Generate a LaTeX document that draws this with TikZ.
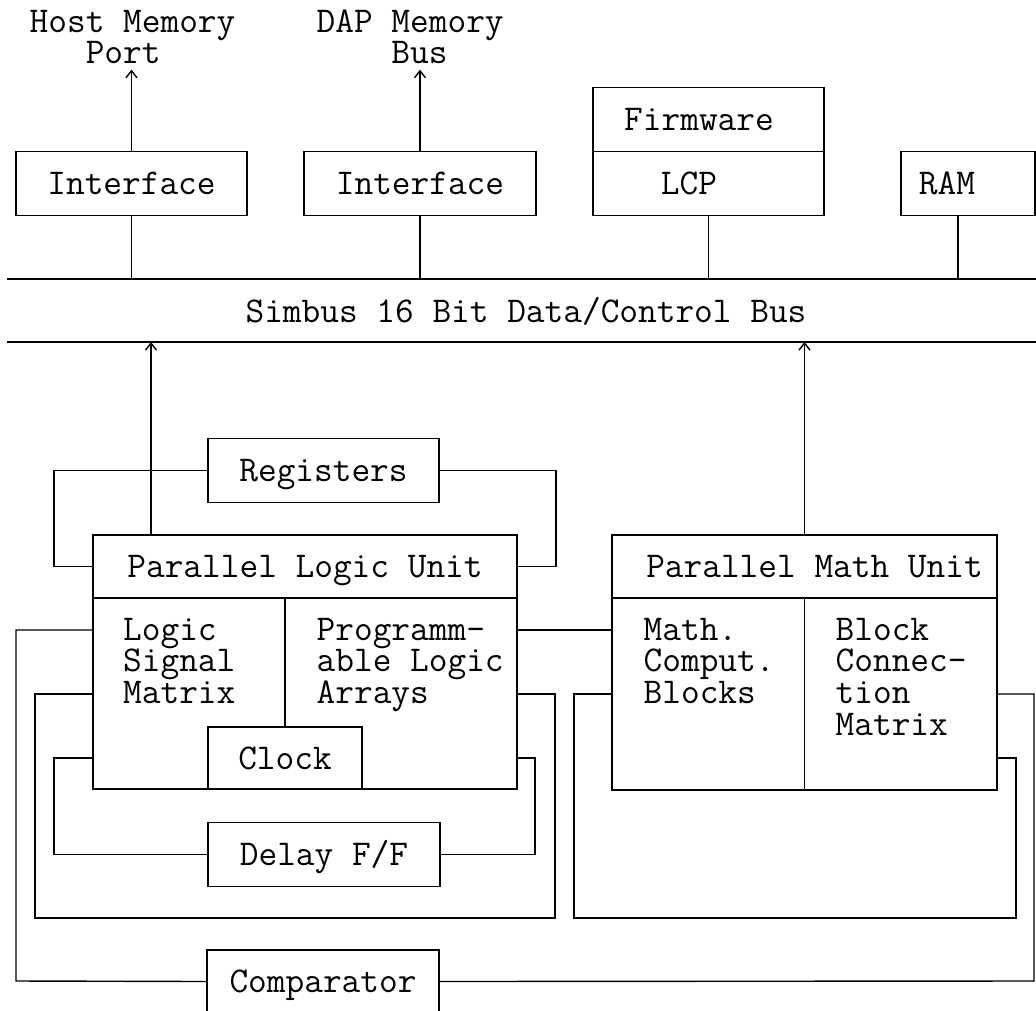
\documentclass[tikz,border=0pt]{standalone}
\usepackage{tikz}
\usetikzlibrary{arrows.meta}

\begin{document}
\begin{tikzpicture}[x=1pt, y=-1pt, line width=1.4pt,
    font=\ttfamily\fontsize{36.3}{31.7}\selectfont,
    box/.style={draw, rectangle, inner sep=0pt, minimum height=64pt, text height=22pt, text depth=0pt},
    txt/.style={inner xsep=0pt, inner ysep=5pt, align=left, anchor=base west},
    up/.style={-{Straight Barb[length=7pt,width=11pt]}},
    every label/.append style={inner sep=0pt, text height=22pt, text depth=0pt}]
                \useasboundingbox (0,0) rectangle (1036,1010);

                % Simbus lines
                \coordinate (bustop) at (7,279);
                \coordinate (bustopR) at (1036,279);
                \coordinate (busbot) at (7,342);
                \coordinate (busbotR) at (1036,342);
                \draw (bustop) -- (bustopR);
                \draw (busbot) -- (busbotR);
                \node[anchor=base] (bus) at (526,322) {Simbus 16 Bit Data/Control Bus};

                % Top row of units
                \node[box, minimum width=231pt] (if1) at (131.5,183.5) {Interface};
                \node[box, minimum width=232pt] (if2) at (420,183.5) {Interface};
                \node[box, minimum width=231pt, label={[xshift=-9.5pt]center:Firmware}] (fw) at (708.5,119.5) {};
                \node[box, minimum width=231pt, label={[xshift=-19.5pt]center:LCP}] (lcp) at (708.5,183.5) {};
                \node[box, minimum width=134pt, label={[xshift=-21pt]center:RAM}] (ram) at (968,183.5) {};

                % Outside ports (base = last line)
                \node[txt] (hostlbl) at (29,63.7) {Host Memory\\\hphantom{Hos}Port};
                \node[txt] (daplbl) at (316,63.7) {DAP Memory\\\hphantom{DAP }Bus};
                \draw[up] (if1.north) -- (if1.north |- hostlbl.south);
                \draw[up] (if2.north) -- (if2.north |- daplbl.south);

                % Connections from top units to the bus
                \draw (if1.south) -- (if1.south |- bustop);
                \draw (if2.south) -- (if2.south |- bustop);
                \draw (lcp.south) -- (lcp.south |- bustop);
                \draw ([xshift=-10pt]ram.south) -- ([xshift=-10pt]ram.south |- bustop);

                % Parallel Logic Unit
                \node[box, minimum width=424pt, minimum height=63pt] (pluhead) at (305,566.5) {Parallel Logic Unit};
                \node[box, minimum width=424pt, minimum height=191pt] (plubody) at (305,693.5) {};
                \node[box, minimum width=154pt, minimum height=62pt, fill=white] (clock) at (285,758) {Clock};
                \draw (clock.north) -- (clock.north |- pluhead.south);
                \node[txt] (lsm) at (122.5,703.4) {Logic\\Signal\\Matrix};
                \node[txt] (pla) at (316,703.4) {Programm-\\able Logic\\Arrays};

                % Parallel Math Unit
                \node[box, minimum width=385pt, minimum height=63pt, label={[xshift=10pt]center:Parallel Math Unit}] (pmuhead) at (804.5,566.5) {};
                \node[box, minimum width=385pt, minimum height=192pt] (pmubody) at (804.5,694) {};
                \draw (pmuhead.south) -- (pmuhead.south |- pmubody.south);
                \node[txt] (mcb) at (643,703.4) {Math.\\Comput.\\Blocks};
                \node[txt] (bcm) at (835,735.1) {Block\\Connec-\\tion\\Matrix};

                % Registers, Delay F/F, Comparator
                \node[box, minimum width=231pt] (reg) at (323.5,470.5) {Registers};
                \node[box, minimum width=232pt] (delay) at (324,854.5) {Delay F/F};
                \node[box, minimum width=232pt, minimum height=63pt] (comp) at (323,981.5) {Comparator};

                % Outputs to the bus
                \coordinate (pluup) at (151,535);
                \draw[up] (pluup) -- (pluup |- busbot);
                \draw[up] (pmuhead.north) -- (pmuhead.north |- busbot);

                % Register loop
                \draw (reg.west) -| (54,566.5) -- (pluhead.west);
                \draw (reg.east) -| (556,566.5) -- (pluhead.east);

                % Wiring rails
                \coordinate (ya) at (0,630);
                \coordinate (yb) at (0,694);
                \coordinate (yc) at (0,758);

                % Wires round the Parallel Logic Unit
                \draw (plubody.west |- ya) -| (16,981) -- (comp.west);
                \draw (plubody.west |- yb) -| (35,918) -| (555,694) -- (plubody.east |- yb);
                \draw (plubody.west |- yc) -| (54,854.5) -- (delay.west);
                \draw (delay.east) -| (535,758) -- (plubody.east |- yc);
                \draw (plubody.east |- ya) -- (pmubody.west |- ya);

                % Wires round the Parallel Math Unit
                \draw (pmubody.west |- yb) -| (574,918) -| (1016,758) -- (pmubody.east |- yc);
                \draw (pmubody.east |- yb) -| (1034,981) -- (comp.east);

\end{tikzpicture}
\end{document}
